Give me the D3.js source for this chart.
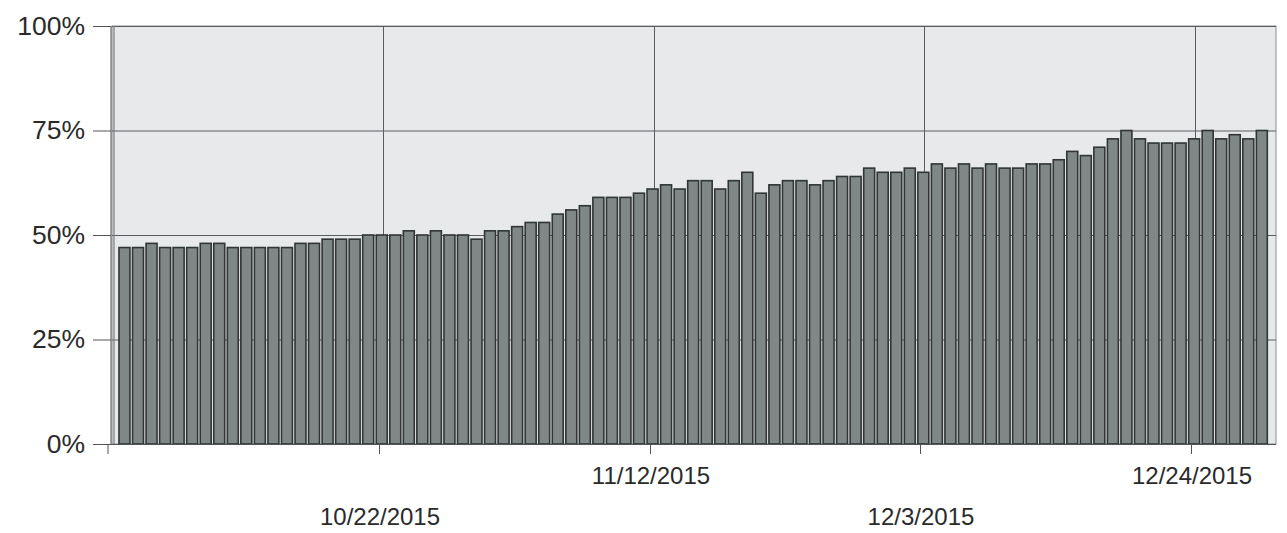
<!DOCTYPE html>
<html>
<head>
<meta charset="utf-8">
<script src="https://cdn.jsdelivr.net/npm/d3@7"></script>
<style>
  html, body { margin: 0; padding: 0; background: #ffffff; }
  svg { display: block; }
  text { font-family: "Liberation Sans", Arial, sans-serif; fill: #2a2a2a; }
</style>
</head>
<body>
<svg id="chart" width="1287" height="533"></svg>
<script>
// ---- data (one bar per category, values in %) ----
const categories = d3.range(85).map(i => "d" + i);
const values = [
  47,47,48,47,47,47,48,48,47,47,47,47,47,48,48,49,49,49,50,50,50,
  51,50,51,50,50,49,51,51,52,53,53,55,56,57,59,59,59,60,
  61,62,61,
  63,63,61,63,65,60,62,63,63,62,63,64,64,66,65,65,66,
  65,67,66,67,66,67,66,66,67,67,68,70,69,71,73,75,73,72,72,72,73,75,73,74,73,75
];
const yTicks = [0, 25, 50, 75, 100];
const yTickLabels = ["0%", "25%", "50%", "75%", "100%"];
const xTickIndex = [19, 39, 59, 79];
const xTickLabels = ["10/22/2015", "11/12/2015", "12/3/2015", "12/24/2015"];
const xLabelRow = [1, 0, 1, 0];

// ---- layout ----
const svg = d3.select("#chart");
const plot = { left: 112, right: 1276, top: 26, bottom: 444 };

const y = d3.scaleLinear().domain([0, 100]).range([plot.bottom, plot.top]);
const x = d3.scaleBand().domain(categories).range([117.7, 1268.6])
  .paddingInner(0.19).paddingOuter(0.095);
const cx = i => Math.round(x(categories[i]) + x.bandwidth() / 2);

// plot background
svg.append("rect")
  .attr("x", plot.left).attr("y", plot.top)
  .attr("width", plot.right - plot.left).attr("height", plot.bottom - plot.top)
  .attr("fill", "#e7e9eb")
  .attr("stroke", "#8a8d90").attr("stroke-width", 1);

// horizontal gridlines
svg.append("g").selectAll("line").data(yTicks.filter(v => v > 0)).join("line")
  .attr("x1", plot.left).attr("x2", plot.right)
  .attr("y1", d => y(d) + 0.5).attr("y2", d => y(d) + 0.5)
  .attr("stroke", "#5a5d60").attr("stroke-width", 1);

// vertical gridlines
svg.append("g").selectAll("line").data(xTickIndex).join("line")
  .attr("x1", d => cx(d) + 1.5)
  .attr("x2", d => cx(d) + 1.5)
  .attr("y1", plot.top).attr("y2", plot.bottom)
  .attr("stroke", "#5a5d60").attr("stroke-width", 1);

// bars
svg.append("g").selectAll("rect").data(values).join("rect")
  .attr("x", (d, i) => x(categories[i]))
  .attr("y", d => y(d))
  .attr("width", x.bandwidth())
  .attr("height", d => y(0) - y(d))
  .attr("fill", "#7f8787")
  .attr("stroke", "#303535")
  .attr("stroke-width", 1.6);

// left wall (double line)
svg.append("line")
  .attr("x1", plot.left - 1).attr("x2", plot.left - 1)
  .attr("y1", plot.top).attr("y2", plot.bottom)
  .attr("stroke", "#6a6d70").attr("stroke-width", 1.2);
svg.append("line")
  .attr("x1", plot.left + 2).attr("x2", plot.left + 2)
  .attr("y1", plot.top).attr("y2", plot.bottom)
  .attr("stroke", "#7a7d80").attr("stroke-width", 1.2);

// y axis
const yAxis = d3.axisLeft(y).tickValues(yTicks)
  .tickFormat((d, i) => yTickLabels[i]).tickSize(18).tickPadding(8);
const gy = svg.append("g").attr("transform", `translate(${plot.left - 1},0)`).call(yAxis);
gy.select(".domain").remove();
gy.selectAll(".tick line").attr("stroke", "#555").attr("stroke-width", 1);
gy.selectAll(".tick text").attr("font-size", 26.5).attr("fill", "#2a2a2a")
  .attr("font-family", "Liberation Sans, Arial, sans-serif");

// x axis line + ticks
svg.append("line")
  .attr("x1", plot.left - 6).attr("x2", plot.right)
  .attr("y1", plot.bottom + 0.5).attr("y2", plot.bottom + 0.5)
  .attr("stroke", "#555").attr("stroke-width", 1);
svg.append("line")
  .attr("x1", plot.left - 4).attr("x2", plot.left - 4)
  .attr("y1", plot.bottom).attr("y2", plot.bottom + 10)
  .attr("stroke", "#555").attr("stroke-width", 1);
svg.append("g").selectAll("line").data(xTickIndex).join("line")
  .attr("x1", d => cx(d) - 2.5)
  .attr("x2", d => cx(d) - 2.5)
  .attr("y1", plot.bottom).attr("y2", plot.bottom + 10)
  .attr("stroke", "#555").attr("stroke-width", 1);

// x tick labels (staggered)
svg.append("g").selectAll("text").data(xTickIndex).join("text")
  .attr("x", d => cx(d) - 2)
  .attr("y", (d, i) => xLabelRow[i] ? 525 : 484)
  .attr("text-anchor", "middle")
  .attr("font-size", 24)
  .text((d, i) => xTickLabels[i]);
</script>
</body>
</html>
